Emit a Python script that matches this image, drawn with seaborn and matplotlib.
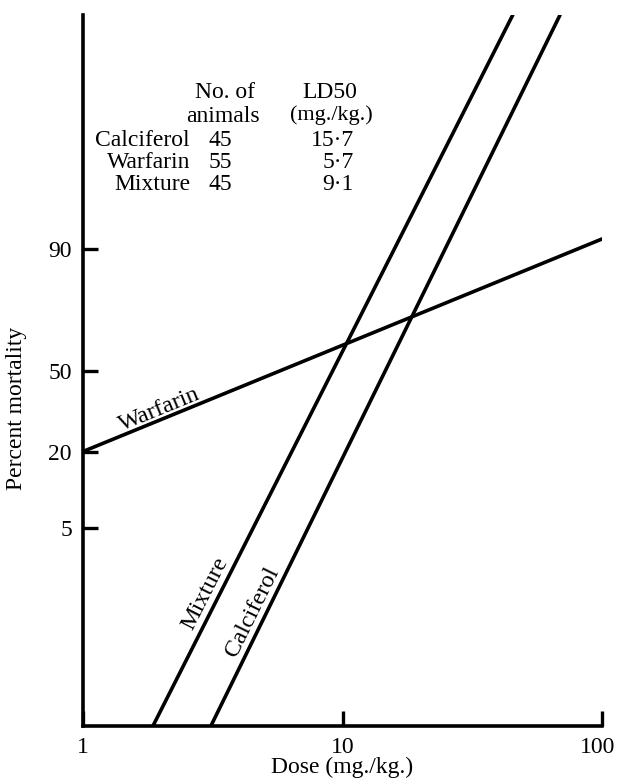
import matplotlib
matplotlib.use("Agg")
import matplotlib.pyplot as plt
import matplotlib.transforms as mtrans
import seaborn as sns
from statistics import NormalDist

# data (x = dose mg/kg, y = probit = 5 + z)
warfarin_dose = [1.0, 100.0]
warfarin_probit = [4.16, 6.39]
mixture_dose = [1.86, 45.3]
mixture_probit = [1.28, 8.74]
calciferol_dose = [3.11, 68.9]
calciferol_probit = [1.28, 8.74]

y_tick_pct = [5, 20, 50, 90]
x_ticks = [1, 10, 100]

table_names = ["Calciferol", "Warfarin", "Mixture"]
table_animals = ["45", "55", "45"]
table_ld50 = ["15\u00b77", "5\u00b77", "9\u00b71"]

W, H = 617, 783

sns.set_style("white")
plt.rcParams["font.family"] = ["Liberation Serif", "DejaVu Serif"]
plt.rcParams["text.color"] = "black"
plt.rcParams["axes.labelcolor"] = "black"

fig = plt.figure(figsize=(W / 100, H / 100), dpi=100)
ax = fig.add_axes([83 / W, 1 - 726 / H, (602 - 83) / W, (726 - 15) / H])

lw = 2.6
for d, p in [(warfarin_dose, warfarin_probit),
             (mixture_dose, mixture_probit),
             (calciferol_dose, calciferol_probit)]:
    sns.lineplot(x=d, y=p, ax=ax, color="black", linewidth=lw)

ax.set_xscale("log")
ax.set_xlim(1, 100)
ax.set_ylim(1.28, 8.74)

ax.set_xticks(x_ticks)
ax.set_xticklabels([str(v) for v in x_ticks])
ax.minorticks_off()
ax.set_yticks([5 + NormalDist().inv_cdf(p / 100) for p in y_tick_pct])
ax.set_yticklabels([str(p) for p in y_tick_pct])
ax.tick_params(axis="both", direction="in", length=11, width=2.4,
               labelsize=17, colors="black", bottom=True, left=True)
ax.tick_params(axis="x", pad=8)
ax.tick_params(axis="y", pad=8)

# pull the "100" label a bit inwards so it stays on the canvas
lab100 = ax.get_xticklabels()[-1]
lab100.set_transform(lab100.get_transform() +
                     mtrans.ScaledTranslation(-4 / 100, 0, fig.dpi_scale_trans))

sns.despine(ax=ax)
for s in ["left", "bottom"]:
    ax.spines[s].set_linewidth(2.6)
    ax.spines[s].set_color("black")

ax.set_xlabel("Dose (mg./kg.)", fontsize=17)
ax.xaxis.set_label_coords((342 - 83) / 519, (726 - 767) / 711)
ax.xaxis.label.set_va("center")
ax.set_ylabel("Percent mortality", fontsize=17)
ax.yaxis.set_label_coords((17 - 83) / 519, (726 - 408) / 711)
ax.yaxis.label.set_va("center")

# labels along the lines
ax.text(1.98, 4.60, "Warfarin", fontsize=17.5, rotation=22.3,
        ha="center", va="center", rotation_mode="anchor")
ax.text(2.955, 2.665, "Mixture", fontsize=17.5, rotation=63.1,
        ha="center", va="center", rotation_mode="anchor")
ax.text(4.506, 2.48, "Calciferol", fontsize=17.5, rotation=63.8,
        ha="center", va="center", rotation_mode="anchor")

# small table in the upper left
def px(x, y):
    return x / W, 1 - y / H

fig.text(*px(225, 93), "No. of", fontsize=17, ha="center", va="center")
fig.text(*px(223, 116), "animals", fontsize=17, ha="center", va="center")
fig.text(*px(330, 93), "LD50", fontsize=17, ha="center", va="center")
fig.text(*px(331, 115), "(mg./kg.)", fontsize=16, ha="center", va="center")
row_y = [140, 163, 185]
for name, n, ld, y in zip(table_names, table_animals, table_ld50, row_y):
    fig.text(*px(190, y), name, fontsize=17, ha="right", va="center")
    fig.text(*px(232, y), n, fontsize=17, ha="right", va="center")
    fig.text(*px(354, y), ld, fontsize=17, ha="right", va="center")

fig.savefig("out.png", dpi=100)
